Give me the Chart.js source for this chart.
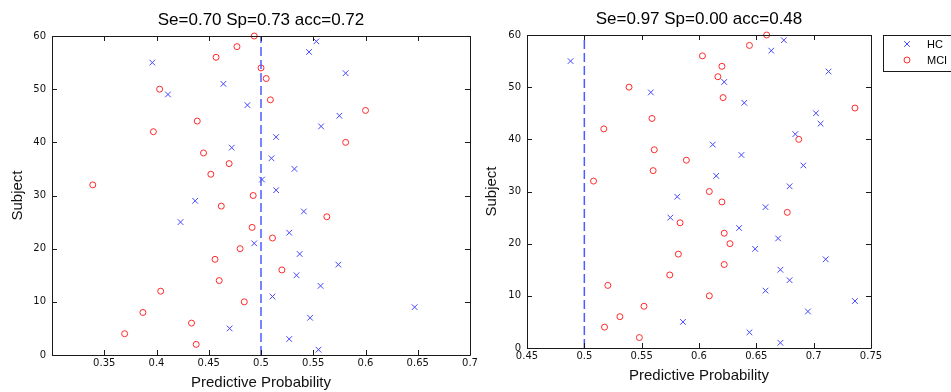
<!DOCTYPE html>
<html><head><meta charset="utf-8">
<script src="https://cdn.jsdelivr.net/npm/chart.js@4.4.1/dist/chart.umd.min.js"></script>
<style>
html,body{margin:0;padding:0;background:#fff;overflow:hidden}
#wrap{position:relative;width:951px;height:392px;background:#fff}
#c1{position:absolute;left:0;top:0}
#c2{position:absolute;left:480px;top:0}
</style></head><body>
<div id="wrap">
<canvas id="c1" width="480" height="392"></canvas>
<canvas id="c2" width="471" height="392"></canvas>
</div>
<script>
// ---- data ----
const subjectsHC  = [1,3,5,7,9,11,13,15,17,19,21,23,25,27,29,31,33,35,37,39,41,43,45,47,49,51,53,55,57,59];
const subjectsMCI = [2,4,6,8,10,12,14,16,18,20,22,24,26,28,30,32,34,36,38,40,42,44,46,48,50,52,54,56,58,60];

const leftHC  = [0.555,0.527,0.470,0.547,0.647,0.511,0.557,0.534,0.574,0.537,0.4935,0.527,0.423,0.541,0.437,0.5145,0.501,0.532,0.510,0.472,0.5145,0.5575,0.575,0.487,0.411,0.464,0.581,0.396,0.546,0.553];
const leftMCI = [0.438,0.3695,0.4335,0.387,0.484,0.404,0.460,0.520,0.456,0.480,0.511,0.4915,0.563,0.462,0.4925,0.339,0.452,0.4695,0.445,0.581,0.397,0.439,0.600,0.509,0.403,0.505,0.500,0.457,0.477,0.4935];

const rightHC  = [0.671,0.644,0.586,0.695,0.736,0.658,0.679,0.671,0.7105,0.649,0.669,0.635,0.575,0.658,0.581,0.679,0.615,0.691,0.637,0.612,0.684,0.706,0.702,0.6395,0.558,0.622,0.713,0.488,0.663,0.674];
const rightMCI = [0.548,0.5176,0.531,0.552,0.609,0.5205,0.5745,0.622,0.582,0.627,0.622,0.5835,0.677,0.620,0.609,0.508,0.560,0.589,0.561,0.687,0.517,0.559,0.736,0.621,0.539,0.6165,0.620,0.603,0.644,0.659];

const threshold = 0.5;
const yRange = [0, 60];
const yTicks = [0,10,20,30,40,50,60];
const xTicksLeft  = [0.35,0.4,0.45,0.5,0.55,0.6,0.65,0.7];
const xTicksRight = [0.45,0.5,0.55,0.6,0.65,0.7,0.75];
const xRangeLeft  = [0.3, 0.7];
const xRangeRight = [0.45, 0.75];
const titleLeft  = 'Se=0.70 Sp=0.73 acc=0.72';
const titleRight = 'Se=0.97 Sp=0.00 acc=0.48';
const xLabel = 'Predictive Probability';
const yLabel = 'Subject';
const seriesNames = ['HC', 'MCI'];

// ---- styles ----
const BLUE = '#4545ff', RED = '#ff2a2a', AX = '#1a1a1a';

function pts(xs, ys){ return xs.map((v,i)=>({x:v, y:ys[i]})); }
function fmt(v){ return String(Math.round(v*100)/100); }

const boxPlugin = {
  id:'boxTicks',
  afterDraw(chart){
    const {ctx, chartArea:a} = chart;
    const xs = chart.scales.x, ys = chart.scales.y;
    ctx.save();
    ctx.strokeStyle = AX; ctx.lineWidth = 1;
    ctx.beginPath();
    ctx.rect(Math.round(a.left)+0.5, Math.round(a.top)+0.5, Math.round(a.right-a.left), Math.round(a.bottom-a.top));
    ctx.stroke();
    ctx.beginPath();
    const L = 5;
    xs.ticks.forEach(t=>{
      const p = Math.round(xs.getPixelForValue(t.value))+0.5;
      ctx.moveTo(p, a.bottom); ctx.lineTo(p, a.bottom-L);
      ctx.moveTo(p, a.top); ctx.lineTo(p, a.top+L);
    });
    ys.ticks.forEach(t=>{
      const p = Math.round(ys.getPixelForValue(t.value))+0.5;
      ctx.moveTo(a.left, p); ctx.lineTo(a.left+L, p);
      ctx.moveTo(a.right, p); ctx.lineTo(a.right-L, p);
    });
    ctx.stroke();
    ctx.restore();
  }
};

const legendPlugin = {
  id:'boxLegend',
  afterDraw(chart, args, opts){
    if(!opts || !opts.show) return;
    const ctx = chart.ctx;
    ctx.save();
    ctx.fillStyle = '#fff';
    ctx.fillRect(opts.x, opts.y, opts.w, opts.h);
    ctx.strokeStyle = AX; ctx.lineWidth = 1;
    ctx.strokeRect(opts.x+0.5, opts.y+0.5, opts.w, opts.h);
    const dsets = chart.data.datasets.filter(d=>d.inLegend);
    dsets.forEach((d,i)=>{
      const cx = opts.x+24, cy = opts.y + 9 + i*16;
      ctx.strokeStyle = d.borderColor; ctx.lineWidth = d.borderWidth;
      ctx.beginPath();
      if(d.pointStyle==='crossRot'){
        const o = d.pointRadius*0.7071;
        ctx.moveTo(cx-o, cy-o); ctx.lineTo(cx+o, cy+o);
        ctx.moveTo(cx+o, cy-o); ctx.lineTo(cx-o, cy+o);
      } else {
        ctx.arc(cx, cy, d.pointRadius, 0, Math.PI*2);
      }
      ctx.stroke();
      ctx.fillStyle = '#000';
      ctx.font = '11px "Liberation Sans", Arial, sans-serif';
      ctx.textBaseline = 'middle'; ctx.textAlign = 'left';
      ctx.fillText(d.label, opts.x+44, cy+1);
    });
    ctx.restore();
  }
};

function makeChart(id, o){
  return new Chart(document.getElementById(id), {
    type:'scatter',
    data:{ datasets:[
      { label:'threshold', data:[{x:threshold,y:yRange[0]},{x:threshold,y:yRange[1]}], showLine:true,
        borderColor:'#4a5cff', borderWidth:1.5, borderDash:[9,4], pointRadius:0, clip:false, inLegend:false },
      { label:seriesNames[0], data:pts(o.hc, subjectsHC), pointStyle:'crossRot', pointRadius:4,
        borderColor:BLUE, backgroundColor:BLUE, borderWidth:1, clip:false, inLegend:true },
      { label:seriesNames[1], data:pts(o.mci, subjectsMCI), pointStyle:'circle', pointRadius:3,
        borderColor:RED, backgroundColor:'rgba(0,0,0,0)', borderWidth:1, clip:false, inLegend:true }
    ]},
    options:{
      responsive:false, animation:false, devicePixelRatio:1,
      events:[],
      layout:{ padding:{left:0, right:o.padRight, top:0, bottom:0} },
      plugins:{
        legend:{display:false}, tooltip:{enabled:false},
        title:{ display:true, text:o.title, fullSize:false, color:'#000',
          font:{family:'"Liberation Sans", Arial, sans-serif', size:17, weight:'normal', lineHeight:1.2},
          padding:{top:o.titlePadTop, bottom:o.titlePadBottom} },
        boxLegend:o.legend
      },
      scales:{
        x:{ type:'linear', min:o.xRange[0], max:o.xRange[1],
          afterBuildTicks:(s)=>{ s.ticks = o.xTicks.map(v=>({value:v})); },
          afterFit:(s)=>{ s.height = o.xAxisH; },
          grid:{display:false, drawTicks:false}, border:{display:false},
          ticks:{ autoSkip:false, maxRotation:0, padding:2, color:'#111',
            font:{family:'"DejaVu Sans", sans-serif', size:10}, callback:(v)=>fmt(v) },
          title:{ display:true, text:xLabel, color:'#111',
            font:{family:'"Liberation Sans", Arial, sans-serif', size:15}, padding:{top:0,bottom:o.xTitlePadB} }
        },
        y:{ type:'linear', min:yRange[0], max:yRange[1],
          afterBuildTicks:(s)=>{ s.ticks = yTicks.map(v=>({value:v})); },
          afterFit:(s)=>{ s.width = o.yAxisW; },
          grid:{display:false, drawTicks:false}, border:{display:false},
          ticks:{ autoSkip:false, padding:6, color:'#111',
            font:{family:'"DejaVu Sans", sans-serif', size:10}, callback:(v)=>String(v) },
          title:{ display:true, text:yLabel, color:'#111',
            font:{family:'"Liberation Sans", Arial, sans-serif', size:15}, padding:{top:o.yTitlePadT,bottom:0} }
        }
      }
    },
    plugins:[boxPlugin, legendPlugin]
  });
}

makeChart('c1', { hc:leftHC, mci:leftMCI, title:titleLeft, xTicks:xTicksLeft, xRange:xRangeLeft,
  padRight:10, titlePadTop:9.8, titlePadBottom:5.8, xAxisH:37, yAxisW:52, xTitlePadB:0, yTitlePadT:9,
  legend:{show:false} });

makeChart('c2', { hc:rightHC, mci:rightMCI, title:titleRight, xTicks:xTicksRight, xRange:xRangeRight,
  padRight:80, titlePadTop:8.8, titlePadBottom:5.8, xAxisH:44, yAxisW:47, xTitlePadB:7, yTitlePadT:2.7,
  legend:{show:true, x:403, y:35, w:90, h:36} });
</script>
</body></html>
